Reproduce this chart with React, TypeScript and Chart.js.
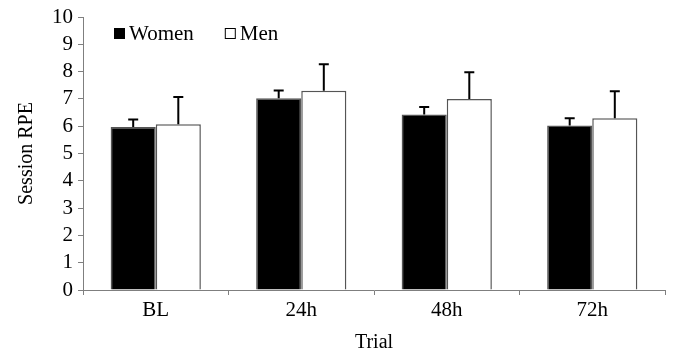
import React, { useEffect, useRef } from "react";
import { Chart, registerables } from "chart.js";

Chart.register(...registerables);

const categories = ["BL", "24h", "48h", "72h"];
const womenValues = [5.97, 7.02, 6.43, 6.03];
const womenErrors = [0.28, 0.29, 0.27, 0.26];
const menValues = [6.07, 7.3, 7.0, 6.29];
const menErrors = [1.0, 0.97, 0.98, 0.99];
const yTicks = [0, 1, 2, 3, 4, 5, 6, 7, 8, 9, 10];

const FONT = '"Liberation Serif", "Times New Roman", serif';

const errorBarPlugin = {
  id: "errorBars",
  afterDatasetsDraw(chart: any) {
    const ctx = chart.ctx;
    const yScale = chart.scales.y;
    chart.data.datasets.forEach((ds: any, di: number) => {
      const meta = chart.getDatasetMeta(di);
      const errs: number[] = ds.errors || [];
      meta.data.forEach((bar: any, i: number) => {
        const v = ds.data[i];
        const e = errs[i];
        if (e == null) return;
        const yTop = yScale.getPixelForValue(v + e);
        const yBase = bar.y;
        ctx.save();
        ctx.strokeStyle = "#000";
        ctx.lineWidth = 2;
        ctx.beginPath();
        ctx.moveTo(bar.x, yBase);
        ctx.lineTo(bar.x, yTop);
        ctx.moveTo(bar.x - 5, yTop);
        ctx.lineTo(bar.x + 5, yTop);
        ctx.stroke();
        ctx.restore();
      });
    });
  },
};

const insideLegendPlugin = {
  id: "insideLegend",
  afterDraw(chart: any) {
    const ctx = chart.ctx;
    const area = chart.chartArea;
    let x = area.left + 31;
    const y = area.top + 16;
    ctx.save();
    ctx.font = `21px ${FONT}`;
    ctx.textBaseline = "middle";
    chart.data.datasets.forEach((ds: any) => {
      ctx.fillStyle = ds.backgroundColor;
      ctx.fillRect(x, y - 5, 11, 11);
      ctx.strokeStyle = "#000";
      ctx.lineWidth = 1;
      ctx.strokeRect(x + 0.5, y - 4.5, 10, 10);
      ctx.fillStyle = "#000";
      ctx.fillText(ds.label, x + 15, y + 1);
      x += 15 + ctx.measureText(ds.label).width + 31;
    });
    ctx.restore();
  },
};

export default function App() {
  const canvasRef = useRef<HTMLCanvasElement | null>(null);

  useEffect(() => {
    if (!canvasRef.current) return;
    const chart = new Chart(canvasRef.current, {
      type: "bar",
      data: {
        labels: categories,
        datasets: [
          {
            label: "Women",
            data: womenValues,
            errors: womenErrors,
            backgroundColor: "#000000",
            borderColor: "#555555",
            borderWidth: 1.5,
            categoryPercentage: 0.62,
            barPercentage: 1.0,
          } as any,
          {
            label: "Men",
            data: menValues,
            errors: menErrors,
            backgroundColor: "#ffffff",
            borderColor: "#555555",
            borderWidth: 1.5,
            categoryPercentage: 0.62,
            barPercentage: 1.0,
          } as any,
        ],
      },
      options: {
        animation: false,
        responsive: false,
        maintainAspectRatio: false,
        layout: { padding: { top: 17, right: 10, left: 0, bottom: 0 } },
        plugins: {
          legend: { display: false },
          tooltip: { enabled: false },
        },
        scales: {
          x: {
            grid: {
              display: true,
              drawOnChartArea: false,
              drawTicks: true,
              tickLength: 5,
              offset: true,
              color: "#7f7f7f",
            },
            border: { display: true, color: "#7f7f7f", width: 1 },
            ticks: {
              color: "#000",
              font: { family: FONT, size: 21 },
              padding: 3,
            },
            title: {
              display: true,
              text: "Trial",
              color: "#000",
              font: { family: FONT, size: 20, lineHeight: 1.0 },
              padding: { top: 0, bottom: 0 },
            },
            afterFit(scale: any) {
              scale.height = 63;
            },
          },
          y: {
            min: 0,
            max: 10,
            afterBuildTicks(scale: any) {
              scale.ticks = yTicks.map((v) => ({ value: v }));
            },
            grid: {
              display: true,
              drawOnChartArea: false,
              drawTicks: true,
              tickLength: 5,
              color: "#7f7f7f",
            },
            border: { display: true, color: "#7f7f7f", width: 1 },
            ticks: {
              color: "#000",
              font: { family: FONT, size: 21, lineHeight: 1.0 },
              padding: 5,
              autoSkip: false,
            },
            title: {
              display: true,
              text: "Session RPE",
              color: "#000",
              font: { family: FONT, size: 20 },
              padding: { top: 15, bottom: 0 },
            },
            afterFit(scale: any) {
              scale.width = 83;
            },
          },
        },
      },
      plugins: [errorBarPlugin, insideLegendPlugin],
    } as any);
    return () => chart.destroy();
  }, []);

  return (
    <div
      style={{
        position: "fixed",
        left: 0,
        top: 0,
        width: 675,
        height: 353,
        background: "#ffffff",
      }}
    >
      <canvas ref={canvasRef} width={675} height={353} />
    </div>
  );
}
